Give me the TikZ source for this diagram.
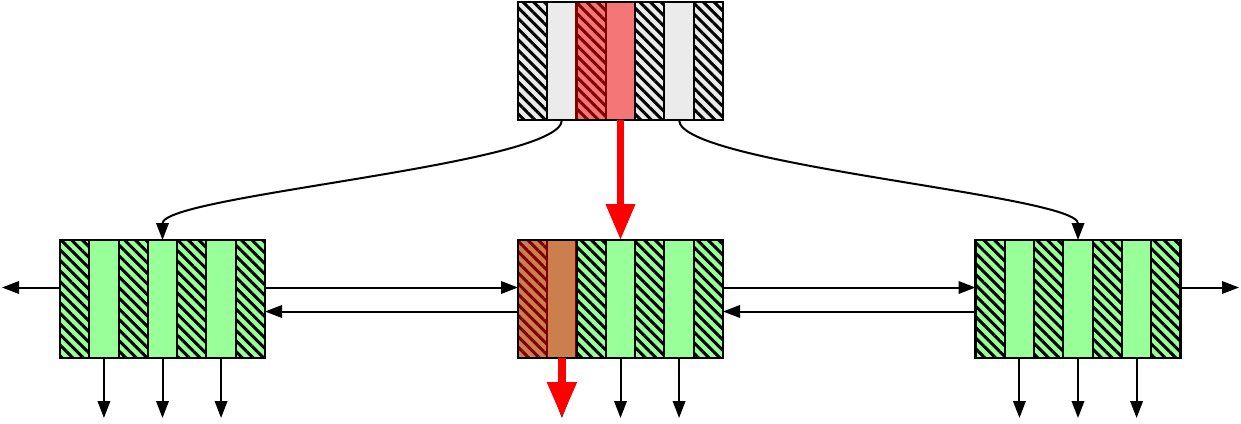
\documentclass[tikz,border=0pt]{standalone}
\usetikzlibrary{patterns.meta,arrows.meta,calc}
\definecolor{hgreen}{HTML}{99FF99}
\definecolor{hgray}{HTML}{EBEBEB}
\definecolor{hred}{HTML}{F47676}
\definecolor{dred}{HTML}{800000}
\definecolor{hbrown}{HTML}{CC7F4C}
\newcommand{\mycells}[2]{\foreach \s [count=\i from 0] in {#2} {\path[\s] ($(#1.north west)+(\i*29.2857,0)$) rectangle ++(29.2857,118);}}
\begin{document}
\begin{tikzpicture}[x=1pt,y=-1pt,
  blk/.style={rectangle,minimum width=205pt,minimum height=118pt,inner sep=0pt,outer sep=0pt},
  border/.style={draw=black,line width=2.3pt},
  hatchp/.style={pattern={Lines[angle=-45,distance=7.5pt,line width=3pt]}},
  hw/.style={draw=black,line width=2pt,preaction={fill=hgray},hatchp,pattern color=black},
  pw/.style={draw=black,line width=2pt,fill=hgray},
  hg/.style={draw=black,line width=2pt,preaction={fill=hgreen},hatchp,pattern color=black},
  pg/.style={draw=black,line width=2pt,fill=hgreen},
  hr/.style={draw=dred,line width=2.2pt,preaction={fill=hred},hatchp,pattern color=dred},
  pr/.style={draw=dred,line width=2.2pt,fill=hred},
  hb/.style={draw=dred,line width=2.2pt,preaction={fill=hbrown},hatchp,pattern color=dred},
  pb/.style={draw=dred,line width=2.2pt,fill=hbrown},
  arr/.style={draw=black,line width=2pt,-{Triangle[length=17pt,width=12.5pt]}},
  redarr/.style={draw=red,line width=7pt,-{Triangle[length=36pt,width=28pt]}}
]
\useasboundingbox (0,0) rectangle (1241,423);
\node[blk] (top) at (620.5,61) {};
\node[blk] (mid) at (620.5,299) {};
\node[blk] (left) at (162.5,299) {};
\node[blk] (right) at (1078,299) {};
\mycells{top}{hw,pw,hr,pr,hw,pw,hw}
\mycells{mid}{hb,pb,hg,pg,hg,pg,hg}
\mycells{left}{hg,pg,hg,pg,hg,pg,hg}
\mycells{right}{hg,pg,hg,pg,hg,pg,hg}
\foreach \n in {top,mid,left,right} {\draw[border] (\n.north west) rectangle (\n.south east);}
% curves from the root
\draw[arr] ([xshift=43.93pt]top.south west) .. controls +(0,45) and +(0,-45) .. (left.north);
\draw[arr] ([xshift=161.07pt]top.south west) .. controls +(0,45) and +(0,-45) .. (right.north);
\draw[redarr] (top.south) -- (mid.north);
% sibling links
\draw[arr] ([yshift=11.5pt]left.east) -- ([yshift=11.5pt]mid.west);
\draw[arr] ([yshift=-12.5pt]mid.west) -- ([yshift=-12.5pt]left.east);
\draw[arr] ([yshift=11.5pt]mid.east) -- ([yshift=11.5pt]right.west);
\draw[arr] ([yshift=-12.5pt]right.west) -- ([yshift=-12.5pt]mid.east);
\coordinate (lout) at (2,287.5);
\coordinate (rout) at (1239,287.5);
\draw[arr] ([yshift=11.5pt]left.west) -- (lout);
\draw[arr] ([yshift=11.5pt]right.east) -- (rout);
% children pointers
\foreach \n in {left,mid,right} {
  \foreach \o in {43.93,102.5,161.07} {
    \draw[arr] ([xshift=\o pt]\n.south west) -- ++(0,60);
  }
}
\draw[redarr,line width=8pt] ([xshift=43.93pt]mid.south west) -- ++(0,60);
\end{tikzpicture}
\end{document}
